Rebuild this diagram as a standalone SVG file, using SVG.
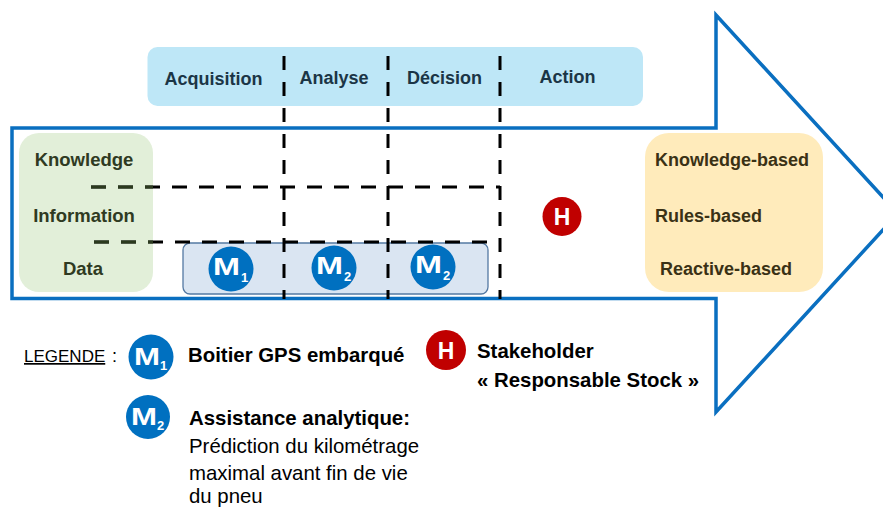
<svg xmlns="http://www.w3.org/2000/svg" width="883" height="509" viewBox="0 0 883 509">
<style>
text{font-family:"Liberation Sans",Arial,sans-serif}
.b{font-weight:bold}
.top{font-size:18px;font-weight:bold;fill:#1B3546;text-anchor:middle}
.grn{font-size:18.5px;font-weight:bold;fill:#2F3A22;text-anchor:middle}
.org{font-size:18px;font-weight:bold;fill:#3A3115}
.dv{stroke:#000;stroke-width:3;stroke-dasharray:14 12;fill:none}
.dh{stroke:#000;stroke-width:3;stroke-dasharray:15 12;fill:none}
.mc{fill:#0070C0}
.hc{fill:#C00000}
.mt{fill:#fff;font-weight:bold;font-size:23px}
.ms{fill:#fff;font-weight:bold;font-size:13px}
.ht{fill:#fff;font-weight:bold;font-size:23px;text-anchor:middle}
.leg{font-size:20.4px;fill:#000}
</style>
<defs>
<clipPath id="gclip"><rect x="19" y="133" width="134" height="159" rx="20"/></clipPath>
</defs>
<g id="arrow">
<path d="M12,128 H716 V15 L898,213.5 L716,412 V298.5 H12 Z" fill="none" stroke="#0A6FC0" stroke-width="3.5" stroke-linejoin="miter" stroke-miterlimit="10"/>
</g>
<g id="phases">
<rect x="147.5" y="47" width="495.5" height="59" rx="10" fill="#BEE7F7"/>
<text class="top" x="213.5" y="85">Acquisition</text>
<text class="top" x="334" y="84">Analyse</text>
<text class="top" x="444.5" y="84">Décision</text>
<text class="top" x="567.5" y="83">Action</text>
</g>
<g id="levels">
<rect x="19" y="133" width="134" height="159" rx="20" fill="#E2EFD9"/>
</g>
<g id="outcomes">
<rect x="645" y="133" width="178" height="159" rx="24" fill="#FFEBBB"/>
<text class="org" x="655" y="166">Knowledge-based</text>
<text class="org" x="655" y="222">Rules-based</text>
<text class="org" x="660" y="275">Reactive-based</text>
</g>
<g id="models-box">
<rect x="183" y="243" width="305" height="51" rx="7" fill="#DAE5F2" stroke="#5479A3" stroke-width="1.3"/>
</g>
<g id="connectors">
<line class="dv" x1="284" y1="56" x2="284" y2="299"/>
<line class="dv" x1="388" y1="56" x2="388" y2="299"/>
<line class="dv" x1="500" y1="56" x2="500" y2="299"/>
<line class="dh" x1="91" y1="187" x2="500" y2="187"/>
<line class="dh" x1="94" y1="242" x2="500" y2="242"/>
<g clip-path="url(#gclip)">
<line class="dh" x1="91" y1="187" x2="500" y2="187" style="stroke:#2B3A1E"/>
<line class="dh" x1="94" y1="242" x2="500" y2="242" style="stroke:#2B3A1E"/>
</g>
</g>
<g id="level-labels">
<text class="grn" x="84" y="166">Knowledge</text>
<text class="grn" x="84" y="222">Information</text>
<text class="grn" x="83" y="275">Data</text>
</g>
<g id="m1">
<circle class="mc" cx="231" cy="269" r="22.5"/>
<text class="mt" x="213" y="275" textLength="27" lengthAdjust="spacingAndGlyphs">M</text>
<text class="ms" x="241" y="282">1</text>
</g>
<g id="m2a">
<circle class="mc" cx="334" cy="268" r="22.5"/>
<text class="mt" x="316" y="274" textLength="27" lengthAdjust="spacingAndGlyphs">M</text>
<text class="ms" x="344" y="281">2</text>
</g>
<g id="m2b">
<circle class="mc" cx="433" cy="267" r="22.5"/>
<text class="mt" x="415" y="273" textLength="27" lengthAdjust="spacingAndGlyphs">M</text>
<text class="ms" x="443" y="280">2</text>
</g>
<g id="h-node">
<circle class="hc" cx="562" cy="216.5" r="19.5"/>
<text class="ht" x="562" y="225">H</text>
</g>
<g id="legend">
<text x="24" y="362" style="font-size:17px" text-decoration="underline">LEGENDE</text>
<text x="112" y="362" style="font-size:18px">:</text>
<circle class="mc" cx="151" cy="357" r="22.5"/>
<text class="mt" x="134" y="365" textLength="26" lengthAdjust="spacingAndGlyphs">M</text>
<text class="ms" x="160" y="370">1</text>
<text class="leg b" x="188" y="362">Boitier GPS embarqué</text>
<circle class="hc" cx="446" cy="350" r="20"/>
<text class="ht" x="446" y="358.5">H</text>
<text class="leg b" x="477" y="358">Stakeholder</text>
<text class="leg b" x="477" y="387">« Responsable Stock »</text>
<circle class="mc" cx="148" cy="417" r="22"/>
<text class="mt" x="131" y="425" textLength="26" lengthAdjust="spacingAndGlyphs">M</text>
<text class="ms" x="157" y="430">2</text>
<text class="leg b" x="189" y="425">Assistance analytique:</text>
<text class="leg" x="189" y="453">Prédiction du kilométrage</text>
<text class="leg" x="189" y="480">maximal avant fin de vie</text>
<text class="leg" x="189" y="503">du pneu</text>
</g>
</svg>
